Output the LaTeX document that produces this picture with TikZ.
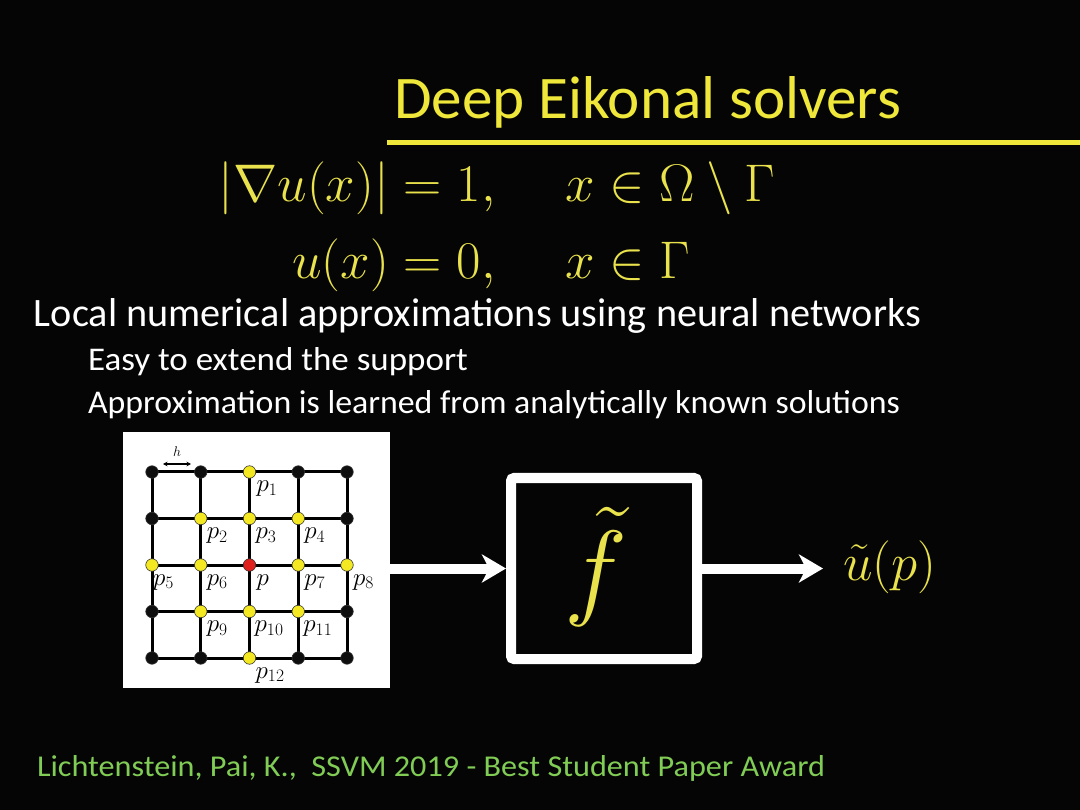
\RequirePackage{fix-cm}
\documentclass[tikz,border=0pt]{standalone}
\usepackage{fontspec}
\usepackage{graphicx}
\usetikzlibrary{arrows.meta}
\newfontfamily\comicfont{Carlito}
\definecolor{bg}{HTML}{050505}
\definecolor{titleyellow}{HTML}{EFE73A}
\definecolor{mathyellow}{HTML}{E9E24C}
\definecolor{footgreen}{HTML}{80CC55}
\definecolor{dotyellow}{HTML}{F3E822}
\definecolor{dotred}{HTML}{E0201C}
\definecolor{dotblack}{HTML}{0E0E0E}
\newcommand\fitbox[3]{\resizebox{#1}{#2}{\comicfont\fontsize{30}{36}\selectfont #3}}
\tikzset{
  txt/.style={anchor=base west, inner sep=0pt, outer sep=0pt},
  eq/.style={inner sep=0pt, text=mathyellow, font=\fontsize{53}{60}\selectfont},
  gridline/.style={line width=3pt, draw=black},
  dot/.style={circle, inner sep=0pt, minimum size=12.5pt, draw=black!80, line width=0.6pt},
  ydot/.style={dot, fill=dotyellow},
  bdot/.style={dot, fill=dotblack},
  rdot/.style={dot, fill=dotred},
  plabel/.style={anchor=base west, inner sep=0pt, font=\fontsize{25}{25}\selectfont},
  bigarrow/.style={draw=white, line width=10pt, -{Stealth[length=24pt,width=28pt,inset=7pt]}},
}
\begin{document}
\begin{tikzpicture}[x=1pt,y=-1pt]
\useasboundingbox (0,0) rectangle (1080,810);
\fill[bg] (0,0) rectangle (1080,810);
% title
\node[txt, text=titleyellow] (title) at (394,119) {\fitbox{507pt}{42pt}{Deep Eikonal solvers}};
\draw[titleyellow, line width=5pt] (387,142.5) -- (1080,142.5);
% equations
\node[eq, anchor=base east] (eqA1) at (389,202) {$|\nabla u(x)|$};
\node[eq, anchor=base west] (eqB1) at (389,202) {${}=1,$};
\node[eq, anchor=base west] (eqC1) at (565,202) {$x\in\Omega\setminus\Gamma$};
\node[eq, anchor=base east] (eqA2) at (389,279) {$u(x)$};
\node[eq, anchor=base west] (eqB2) at (389,279) {${}=0,$};
\node[eq, anchor=base west] (eqC2) at (565,279) {$x\in\Gamma$};
% text lines
\node[txt, text=white] (l1) at (34,327) {\fitbox{887pt}{28pt}{Local numerical approximations using neural networks}};
\node[txt, text=white] (l2) at (88,371) {\fitbox{380pt}{23pt}{Easy to extend the support}};
\node[txt, text=white] (l3) at (88,414) {\fitbox{812pt}{23pt}{Approximation is learned from analytically known solutions}};
\node[txt, text=footgreen] (foot) at (37,776) {\fitbox{788pt}{21pt}{Lichtenstein, Pai, K.,\ \ SSVM 2019 - Best Student Paper Award}};
% grid panel
\node[fill=white, minimum width=267pt, minimum height=255pt, inner sep=0pt, outer sep=0pt] (panel) at (256.5,560) {};
\foreach \i in {0,...,4}{
  \foreach \j in {0,...,4}{
    \coordinate (c-\i-\j) at ({152+48.75*\i},{472+46.5*\j});
  }
}
\foreach \k in {0,...,4}{
  \draw[gridline] (c-0-\k) -- (c-4-\k);
  \draw[gridline] (c-\k-0) -- (c-\k-4);
}
\foreach \i/\j in {0/0,1/0,3/0,4/0,0/1,4/1,0/3,4/3,0/4,1/4,3/4,4/4}
  \node[bdot] (d-\i-\j) at (c-\i-\j) {};
\foreach \i/\j in {2/0,1/1,2/1,3/1,0/2,1/2,3/2,4/2,1/3,2/3,3/3,2/4}
  \node[ydot] (d-\i-\j) at (c-\i-\j) {};
\node[rdot] (d-2-2) at (c-2-2) {};
\foreach \i/\j/\t/\dx in {2/0/p_{1}/7,1/1/p_{2}/6,2/1/p_{3}/6,3/1/p_{4}/6,0/2/p_{5}/1,1/2/p_{6}/6,2/2/p/7,3/2/p_{7}/6,4/2/p_{8}/6,1/3/p_{9}/6,2/3/p_{10}/5,3/3/p_{11}/5,2/4/p_{12}/6}
  \node[plabel, xshift=\dx pt, yshift=-20pt] (lab-\i-\j) at (c-\i-\j) {$\t$};
\coordinate (hl) at (163,464);
\coordinate (hr) at (191,464);
\draw[line width=1.2pt, {Stealth[length=4.5pt,width=4.5pt]}-{Stealth[length=4.5pt,width=4.5pt]}] (hl) -- (hr);
\node[inner sep=0pt, font=\fontsize{14}{14}\selectfont] (hlab) at (177,452) {$h$};
% function box
\node[draw=white, line width=10pt, rounded corners=3pt, minimum width=186pt, minimum height=181pt, inner sep=0pt, fill=bg] (fbox) at (604,568.5) {};
\node[inner sep=0pt, text=mathyellow, font=\fontsize{107}{110}\selectfont] (ft) at (596,567) {$\tilde{f}$};
\node[eq, anchor=base west] (out) at (843,580) {$\tilde{u}(p)$};
% arrows
\draw[bigarrow] (panel.east |- fbox.west) -- (fbox.west);
\draw[bigarrow, shorten >=20pt] (fbox.east) -- (fbox.east -| out.west);
\end{tikzpicture}
\end{document}
